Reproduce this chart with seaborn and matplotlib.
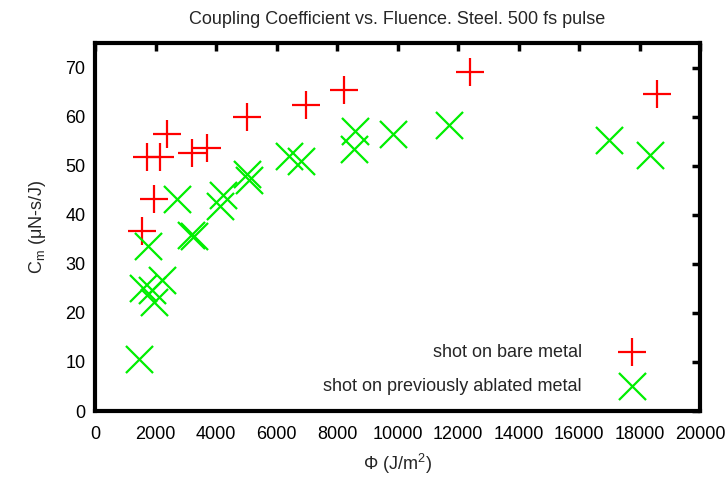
import pandas as pd
import seaborn as sns
import matplotlib
matplotlib.use("Agg")
import matplotlib.pyplot as plt

# Datos
bare_phi = [1540, 1710, 2150, 1960, 2370, 3190, 3690, 5030, 6970, 8240, 12380, 18570]
bare_cm = [36.6, 51.8, 51.8, 43.3, 56.5, 52.6, 53.5, 60.0, 62.4, 65.4, 69.0, 64.6]

abl_phi = [1470, 1760, 2720, 1600, 1900, 2200, 1950, 3160, 3270, 4240, 4130,
           5020, 5080, 6400, 6800, 8590, 8560, 9860, 11710, 16990, 18350]
abl_cm = [10.5, 33.7, 43.3, 25.0, 24.6, 26.7, 22.2, 35.9, 35.6, 44.0, 41.7,
          48.2, 47.1, 51.9, 50.9, 57.0, 53.3, 56.5, 58.2, 55.2, 52.2]

df_bare = pd.DataFrame({"phi": bare_phi, "cm": bare_cm})
df_abl = pd.DataFrame({"phi": abl_phi, "cm": abl_cm})

sns.set_style("white")
plt.rcParams["font.family"] = ["Liberation Sans", "DejaVu Sans"]
plt.rcParams["mathtext.fontset"] = "custom"
plt.rcParams["mathtext.rm"] = "Liberation Sans"
plt.rcParams["mathtext.it"] = "Liberation Sans:italic"

fig = plt.figure(figsize=(7.27, 4.82), dpi=100)
ax = fig.add_axes([0.1307, 0.1473, 0.8322, 0.7635])

sns.scatterplot(data=df_bare, x="phi", y="cm", marker="+", color="#ff0000",
                s=380, linewidth=1.6, label="shot on bare metal", ax=ax)
sns.scatterplot(data=df_abl, x="phi", y="cm", marker="x", color="#00ee00",
                s=380, linewidth=1.6, label="shot on previously ablated metal", ax=ax)

ax.set_xlim(0, 20000)
ax.set_ylim(0, 75)
ax.set_xticks(range(0, 20001, 2000))
ax.set_yticks(range(0, 71, 10))

ax.set_title("Coupling Coefficient vs. Fluence. Steel. 500 fs pulse", fontsize=13, pad=14)
ax.set_xlabel("Φ (J/m$^\\mathrm{2}$)", fontsize=13, labelpad=6)
ax.set_ylabel("C$_\\mathrm{m}$ (μN-s/J)", fontsize=13, labelpad=12)

for sp in ax.spines.values():
    sp.set_visible(True)
    sp.set_color("black")
    sp.set_linewidth(3)

ax.tick_params(axis="both", which="major", direction="in", length=6, width=2.5,
               top=True, right=True, labelsize=13, pad=7, colors="black")
ax.tick_params(axis="x", pad=11)

leg = ax.legend(loc="lower right", frameon=False, markerfirst=False, fontsize=13,
                handletextpad=1.8, borderaxespad=0.5, labelspacing=0.95,
                bbox_to_anchor=(0.945, 0.0))

plt.savefig("out.png", dpi=100)
